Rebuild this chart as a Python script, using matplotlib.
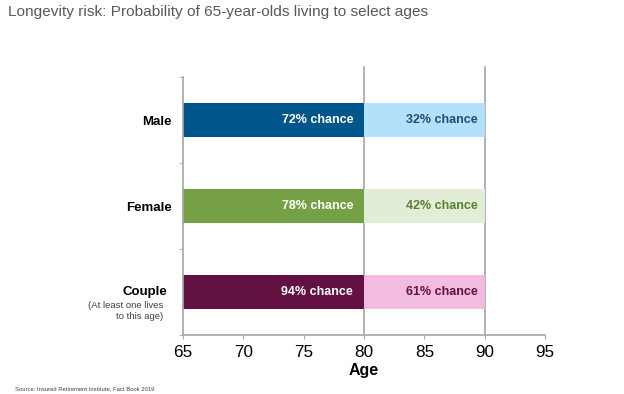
import matplotlib
matplotlib.use("Agg")
import matplotlib.pyplot as plt
from matplotlib.transforms import ScaledTranslation

plt.rcParams['font.family'] = ['Liberation Sans', 'DejaVu Sans']

categories = ["Male", "Female", "Couple"]
start_age = [65, 65, 65]
mid_age = [80, 80, 80]
end_age = [90, 90, 90]
chance_80 = ["72% chance", "78% chance", "94% chance"]
chance_90 = ["32% chance", "42% chance", "61% chance"]
x_ticks = [65, 70, 75, 80, 85, 90, 95]

dark_colors = ["#00558A", "#76A046", "#621142"]
light_colors = ["#B3E0FA", "#E2EDD8", "#F2BBE0"]
light_text = ["#1F4E79", "#5A7F35", "#621142"]

fig = plt.figure(figsize=(6.24, 3.94), dpi=100)
W, H = 624, 394
left, right, top, bottom = 183, 545, 77, 335
ax = fig.add_axes([left / W, 1 - bottom / H, (right - left) / W, (bottom - top) / H])

ypos = [2.5, 1.5, 0.5]
bh = 0.4
for i, cat in enumerate(categories):
    y = ypos[i]
    ax.barh(y, mid_age[i] - start_age[i], left=start_age[i], height=bh,
            color=dark_colors[i], zorder=2)
    ax.barh(y, end_age[i] - mid_age[i], left=mid_age[i], height=bh,
            color=light_colors[i], zorder=2)
    ax.text(mid_age[i] - 0.9, y, chance_80[i], ha='right', va='center',
            color='white', fontsize=9, fontweight='bold', zorder=3)
    ax.text(end_age[i] - 0.6, y, chance_90[i], ha='right', va='center',
            color=light_text[i], fontsize=9, fontweight='bold', zorder=3)

for xv in [80, 90]:
    ax.axvline(xv, ymin=0, ymax=1.04, color='#A6A6A6', lw=1.2, clip_on=False, zorder=1)

ax.set_xlim(65, 95)
ax.set_ylim(0, 3)
ax.set_xticks(x_ticks)
ax.set_xticklabels([str(v) for v in x_ticks], fontsize=12.3)
ax.set_yticks(ypos)
ax.set_yticklabels(categories, fontsize=9.5, fontweight='bold')
ax.set_yticks([0, 1, 2, 3], minor=True)
ax.tick_params(axis='y', which='major', length=0, pad=8)
ax.tick_params(axis='y', which='minor', length=3, color='#A6A6A6')
ax.tick_params(axis='x', length=3, color='#A6A6A6', pad=4)
ax.set_xlabel("Age", fontsize=11.5, fontweight='bold', labelpad=2)

# shift the "Couple" label slightly left, as in the reference
couple_lbl = ax.get_yticklabels()[2]
couple_lbl.set_transform(couple_lbl.get_transform() + ScaledTranslation(-5 / 100, 1 / 100, fig.dpi_scale_trans))

for s in ['top', 'right']:
    ax.spines[s].set_visible(False)
for s in ['left', 'bottom']:
    ax.spines[s].set_color('#A6A6A6')
    ax.spines[s].set_linewidth(1.2)

fig.text(163 / W, 1 - 311 / H, "(At least one lives\nto this age)", ha='right', va='center',
         fontsize=6.8, color='#404040', linespacing=1.35)

fig.text(8 / W, 1 - 12 / H, "Longevity risk: Probability of 65-year-olds living to select ages",
         ha='left', va='center', fontsize=11.1, color='#595959')
fig.text(15 / W, 1 - 389 / H, "Source: Insured Retirement Institute, Fact Book 2019",
         ha='left', va='center', fontsize=4.2, color='#404040')

fig.savefig("out.png", dpi=100)
